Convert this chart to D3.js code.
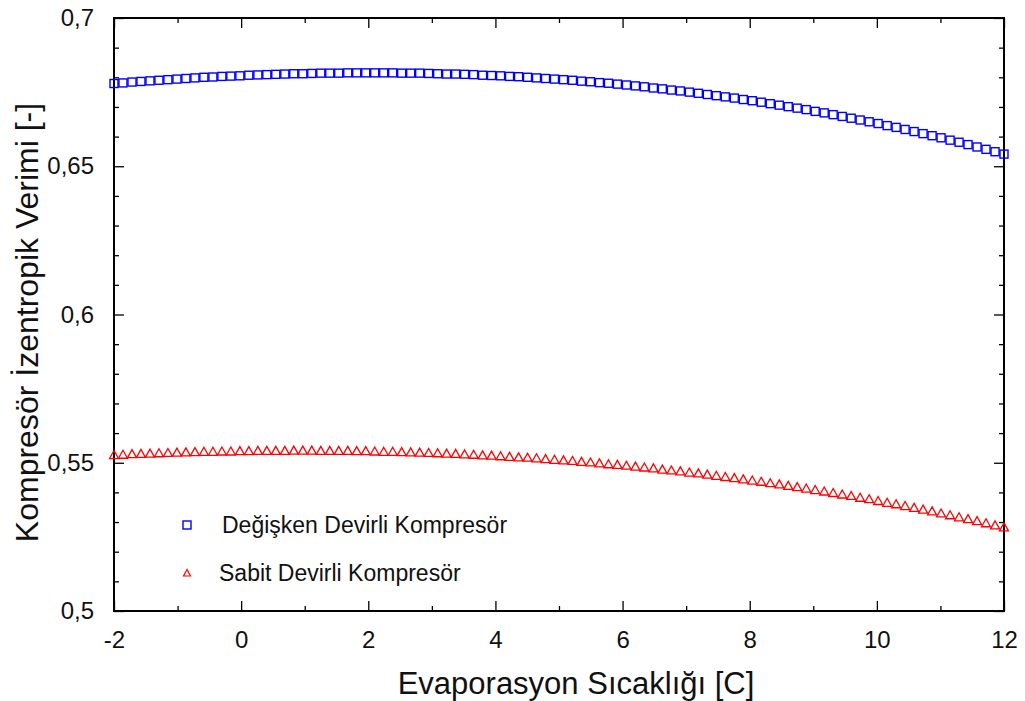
<!DOCTYPE html>
<html><head><meta charset="utf-8">
<script src="https://cdn.jsdelivr.net/npm/d3@7"></script>
<style>body{margin:0;background:#fff}svg{display:block}text{font-family:"Liberation Sans",Arial,sans-serif;font-weight:normal}</style>
</head><body><svg id="c" width="1025" height="701"></svg>
<script>
const xValues=[-2.000,-1.859,-1.717,-1.576,-1.434,-1.293,-1.152,-1.010,-0.869,-0.727,-0.586,-0.444,-0.303,-0.162,-0.020,0.121,0.263,0.404,0.545,0.687,0.828,0.970,1.111,1.253,1.394,1.535,1.677,1.818,1.960,2.101,2.242,2.384,2.525,2.667,2.808,2.949,3.091,3.232,3.374,3.515,3.657,3.798,3.939,4.081,4.222,4.364,4.505,4.646,4.788,4.929,5.071,5.212,5.354,5.495,5.636,5.778,5.919,6.061,6.202,6.343,6.485,6.626,6.768,6.909,7.051,7.192,7.333,7.475,7.616,7.758,7.899,8.040,8.182,8.323,8.465,8.606,8.747,8.889,9.030,9.172,9.313,9.455,9.596,9.737,9.879,10.020,10.162,10.303,10.444,10.586,10.727,10.869,11.010,11.152,11.293,11.434,11.576,11.717,11.859,12.000];
const degiskenValues=[0.6779,0.6781,0.6784,0.6786,0.6788,0.6790,0.6792,0.6794,0.6796,0.6798,0.6800,0.6801,0.6803,0.6804,0.6805,0.6807,0.6808,0.6809,0.6810,0.6811,0.6812,0.6812,0.6813,0.6814,0.6814,0.6814,0.6815,0.6815,0.6815,0.6815,0.6815,0.6815,0.6814,0.6814,0.6814,0.6813,0.6812,0.6811,0.6811,0.6810,0.6809,0.6807,0.6806,0.6805,0.6803,0.6802,0.6800,0.6798,0.6796,0.6794,0.6792,0.6790,0.6787,0.6785,0.6782,0.6780,0.6777,0.6774,0.6771,0.6768,0.6764,0.6761,0.6757,0.6754,0.6750,0.6746,0.6742,0.6738,0.6734,0.6730,0.6725,0.6721,0.6716,0.6711,0.6706,0.6701,0.6696,0.6691,0.6685,0.6680,0.6674,0.6668,0.6662,0.6656,0.6650,0.6644,0.6637,0.6631,0.6624,0.6617,0.6610,0.6603,0.6596,0.6588,0.6581,0.6573,0.6565,0.6557,0.6549,0.6541];
const sabitValues=[0.5526,0.5527,0.5529,0.5530,0.5531,0.5532,0.5533,0.5534,0.5535,0.5536,0.5537,0.5537,0.5538,0.5538,0.5539,0.5539,0.5540,0.5540,0.5540,0.5540,0.5541,0.5541,0.5541,0.5540,0.5540,0.5540,0.5540,0.5539,0.5539,0.5538,0.5537,0.5537,0.5536,0.5535,0.5534,0.5533,0.5532,0.5531,0.5530,0.5528,0.5527,0.5525,0.5524,0.5522,0.5520,0.5518,0.5517,0.5515,0.5512,0.5510,0.5508,0.5506,0.5503,0.5501,0.5498,0.5495,0.5493,0.5490,0.5487,0.5484,0.5481,0.5477,0.5474,0.5471,0.5467,0.5464,0.5460,0.5456,0.5452,0.5448,0.5444,0.5440,0.5436,0.5431,0.5427,0.5422,0.5418,0.5413,0.5408,0.5403,0.5398,0.5393,0.5388,0.5382,0.5377,0.5371,0.5365,0.5360,0.5354,0.5348,0.5342,0.5336,0.5329,0.5323,0.5316,0.5310,0.5303,0.5296,0.5289,0.5282];
const seriesNames=["Değişken Devirli Kompresör","Sabit Devirli Kompresör"];
const xTicks=[-2,0,2,4,6,8,10,12];
const xMinorTicks=[-1,1,3,5,7,9,11];
const yTicks=[0.5,0.55,0.6,0.65,0.7];
const yTickLabels=["0,5","0,55","0,6","0,65","0,7"];
const yMinorTicks=[0.51,0.52,0.53,0.54,0.56,0.57,0.58,0.59,0.61,0.62,0.63,0.64,0.66,0.67,0.68,0.69];
const xTitle="Evaporasyon Sıcaklığı [C]";
const yTitle="Kompresör İzentropik Verimi [-]";

const W=1025,H=701,m={l:114,t:18,r:21,b:90};
const svg=d3.select("#c");
const x=d3.scaleLinear().domain([-2,12]).range([m.l,W-m.r]);
const y=d3.scaleLinear().domain([0.5,0.7]).range([H-m.b,m.t]);
const blue="#0000ff",red="#ff0000";
const FF="Liberation Sans, Arial, sans-serif";

function axisG(gen,tr){return svg.append("g").attr("transform",tr).call(gen).call(g=>g.select(".domain").remove()).call(g=>g.selectAll("line").attr("stroke","#000").attr("stroke-width",1.3));}
const xb=axisG(d3.axisBottom(x).tickValues(xTicks).tickSize(-10).tickPadding(20).tickFormat(d=>d3.format("d")(d).replace("−","-")),`translate(0,${H-m.b})`);
xb.selectAll("text").attr("font-size",24).attr("fill","#111").attr("font-family",FF);
axisG(d3.axisBottom(x).tickValues(xMinorTicks).tickSize(-5).tickFormat(""),`translate(0,${H-m.b})`);
axisG(d3.axisTop(x).tickValues(xTicks).tickSize(-10).tickFormat(""),`translate(0,${m.t})`);
axisG(d3.axisTop(x).tickValues(xMinorTicks).tickSize(-5).tickFormat(""),`translate(0,${m.t})`);
const yl=axisG(d3.axisLeft(y).tickValues(yTicks).tickSize(-10).tickPadding(20).tickFormat((d,i)=>yTickLabels[i]),`translate(${m.l},0)`);
yl.selectAll("text").attr("font-size",24).attr("fill","#111").attr("font-family",FF);
axisG(d3.axisLeft(y).tickValues(yMinorTicks).tickSize(-5).tickFormat(""),`translate(${m.l},0)`);
axisG(d3.axisRight(y).tickValues(yTicks).tickSize(-10).tickFormat(""),`translate(${W-m.r},0)`);
axisG(d3.axisRight(y).tickValues(yMinorTicks).tickSize(-5).tickFormat(""),`translate(${W-m.r},0)`);

svg.append("rect").attr("x",m.l).attr("y",m.t).attr("width",W-m.l-m.r).attr("height",H-m.t-m.b).attr("fill","none").attr("stroke","#000").attr("stroke-width",2);

const tri=d3.line()([[0,-4.5],[4.5,3.5],[-4.5,3.5]])+"Z";
svg.append("g").selectAll("rect").data(xValues).join("rect")
 .attr("x",(d)=>x(d)-4).attr("y",(d,i)=>y(degiskenValues[i])-4).attr("width",8).attr("height",8)
 .attr("fill","none").attr("stroke",blue).attr("stroke-width",1.4);
svg.append("g").selectAll("path").data(xValues).join("path")
 .attr("transform",(d,i)=>`translate(${x(d)},${y(sabitValues[i])})`).attr("d",tri)
 .attr("fill","none").attr("stroke",red).attr("stroke-width",1.3);

svg.append("rect").attr("x",183).attr("y",521).attr("width",8).attr("height",8).attr("fill","none").attr("stroke",blue).attr("stroke-width",1.4);
svg.append("path").attr("transform","translate(187,573)").attr("d",d3.line()([[0,-3.5],[3.5,3],[-3.5,3]])+"Z").attr("fill","none").attr("stroke",red).attr("stroke-width",1.2);
svg.append("text").attr("x",222).attr("y",533).attr("font-size",23).attr("fill","#111").text(seriesNames[0]);
svg.append("text").attr("x",219).attr("y",581).attr("font-size",23).attr("fill","#111").text(seriesNames[1]);

svg.append("text").attr("x",(m.l+W-m.r)/2+17).attr("y",694).attr("text-anchor","middle").attr("font-size",31).attr("fill","#111").text(xTitle);
svg.append("text").attr("transform",`translate(38,${(m.t+H-m.b)/2+8}) rotate(-90)`).attr("text-anchor","middle").attr("font-size",32).attr("fill","#111").text(yTitle);
</script></body></html>
